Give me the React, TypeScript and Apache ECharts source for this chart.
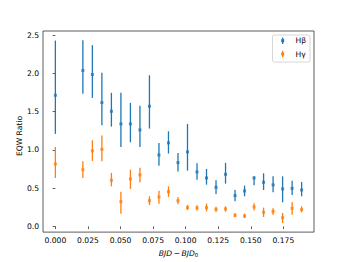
import React, { useEffect, useRef } from "react";
import * as echarts from "echarts";

const xVals = [0.0, 0.0211, 0.0284, 0.0357, 0.043, 0.0503, 0.0576, 0.0649, 0.0722, 0.0795, 0.0868, 0.0941, 0.1014, 0.1087, 0.116, 0.1233, 0.1306, 0.1379, 0.1452, 0.1525, 0.1598, 0.1671, 0.1744, 0.1817, 0.189];

const hbVal = [1.715, 2.038, 1.986, 1.619, 1.505, 1.34, 1.34, 1.262, 1.571, 0.934, 1.092, 0.834, 0.974, 0.712, 0.633, 0.51, 0.681, 0.402, 0.463, 0.633, 0.576, 0.542, 0.49, 0.497, 0.476];
const hbLow = [1.21, 1.733, 1.68, 1.322, 1.305, 1.039, 1.1, 1.039, 1.279, 0.794, 0.952, 0.716, 0.729, 0.611, 0.546, 0.424, 0.559, 0.327, 0.393, 0.537, 0.476, 0.445, 0.314, 0.411, 0.393];
const hbHigh = [2.43, 2.435, 2.37, 2.008, 1.746, 1.746, 1.615, 1.576, 1.976, 1.09, 1.243, 0.96, 1.34, 0.825, 0.751, 0.602, 0.83, 0.476, 0.533, 0.654, 0.694, 0.654, 0.654, 0.598, 0.581];

const hgVal = [0.817, 0.742, 0.987, 1.008, 0.602, 0.323, 0.62, 0.673, 0.336, 0.385, 0.454, 0.336, 0.245, 0.241, 0.245, 0.223, 0.228, 0.144, 0.136, 0.254, 0.183, 0.196, 0.114, 0.236, 0.219];
const hgLow = [0.633, 0.633, 0.856, 0.851, 0.524, 0.166, 0.49, 0.576, 0.28, 0.297, 0.385, 0.288, 0.215, 0.206, 0.196, 0.188, 0.192, 0.118, 0.109, 0.209, 0.123, 0.149, 0.044, 0.153, 0.184];
const hgHigh = [1.039, 0.851, 1.126, 1.187, 0.699, 0.454, 0.742, 0.768, 0.393, 0.467, 0.524, 0.385, 0.28, 0.275, 0.297, 0.258, 0.262, 0.17, 0.166, 0.301, 0.245, 0.236, 0.175, 0.314, 0.262];

const xTicks = [0, 0.025, 0.05, 0.075, 0.1, 0.125, 0.15, 0.175];
const yTicks = [0, 0.5, 1.0, 1.5, 2.0, 2.5];

const BLUE = "#1f77b4";
const ORANGE = "#ff7f0e";

function errSeries(name: string, color: string, low: number[], high: number[]) {
  return {
    type: "custom",
    name,
    silent: true,
    data: xVals.map((x, i) => [x, low[i], high[i]]),
    encode: { x: 0, y: [1, 2] },
    renderItem: (params: any, api: any) => {
      const p1 = api.coord([api.value(0), api.value(1)]);
      const p2 = api.coord([api.value(0), api.value(2)]);
      return {
        type: "line",
        shape: { x1: p1[0], y1: p1[1], x2: p2[0], y2: p2[1] },
        style: { stroke: color, lineWidth: 1.3 },
      };
    },
    z: 2,
  };
}

export default function App() {
  const ref = useRef<HTMLDivElement>(null);
  useEffect(() => {
    const chart = echarts.init(ref.current!, null, { renderer: "svg" });
    const font = "DejaVu Sans";
    chart.setOption({
      animation: false,
      textStyle: { fontFamily: font },
      grid: {
        left: 43,
        top: 31,
        right: 35,
        bottom: 29.5,
        show: true,
        borderColor: "#333",
        borderWidth: 0.8,
        backgroundColor: "transparent",
      },
      xAxis: {
        type: "value",
        min: -0.0095,
        max: 0.1985,
        name: "{i|BJD}{n|\u2009−\u2009}{i|BJD}{s|0}",
        nameLocation: "middle",
        nameGap: 15,
        nameTextStyle: {
          rich: {
            i: { fontFamily: font, fontStyle: "italic", fontSize: 7.6, color: "#000" },
            n: { fontFamily: font, fontSize: 7.6, color: "#000" },
            s: { fontFamily: font, fontStyle: "normal", fontSize: 5.3, color: "#000", verticalAlign: "bottom", padding: [3, 0, 0, 0] },
          },
        },
        axisLine: { show: false },
        splitLine: { show: false },
        axisTick: { show: true, customValues: xTicks, length: 2.7, lineStyle: { color: "#333", width: 0.8 } },
        axisLabel: {
          customValues: xTicks,
          formatter: (v: number) => v.toFixed(3),
          fontSize: 7.6,
          color: "#000",
          margin: 4,
          fontFamily: font,
        },
      },
      yAxis: {
        type: "value",
        min: -0.075,
        max: 2.555,
        axisLine: { show: false },
        splitLine: { show: false },
        axisTick: { show: true, customValues: yTicks, length: 2.7, lineStyle: { color: "#333", width: 0.8 } },
        axisLabel: {
          customValues: yTicks,
          formatter: (v: number) => v.toFixed(1),
          fontSize: 7.6,
          color: "#000",
          margin: 4,
          fontFamily: font,
        },
      },
      series: [
        errSeries("Hβ err", BLUE, hbLow, hbHigh),
        errSeries("Hγ err", ORANGE, hgLow, hgHigh),
        {
          type: "scatter",
          name: "Hβ",
          data: xVals.map((x, i) => [x, hbVal[i]]),
          symbol: "rect",
          symbolSize: 3,
          itemStyle: { color: BLUE },
          z: 3,
        },
        {
          type: "scatter",
          name: "Hγ",
          data: xVals.map((x, i) => [x, hgVal[i]]),
          symbol: "rect",
          symbolSize: 3,
          itemStyle: { color: ORANGE },
          z: 3,
        },
      ],
      graphic: [
        {
          type: "text",
          x: 19.5,
          y: 136,
          rotation: Math.PI / 2,
          style: { text: "EQW Ratio", fontSize: 7.6, fontFamily: font, fill: "#000", align: "center", verticalAlign: "middle" },
        },
        {
          type: "rect",
          shape: { x: 272.5, y: 35, width: 37.5, height: 27, r: 2 },
          style: { fill: "rgba(255,255,255,0.8)", stroke: "#ccc", lineWidth: 0.8 },
          z: 10,
        },
        { type: "line", shape: { x1: 282.7, y1: 37.5, x2: 282.7, y2: 44 }, style: { stroke: BLUE, lineWidth: 1.3 }, z: 11 },
        { type: "rect", shape: { x: 281.2, y: 39.2, width: 3, height: 3 }, style: { fill: BLUE }, z: 11 },
        { type: "line", shape: { x1: 282.7, y1: 50.8, x2: 282.7, y2: 57.3 }, style: { stroke: ORANGE, lineWidth: 1.3 }, z: 11 },
        { type: "rect", shape: { x: 281.2, y: 52.5, width: 3, height: 3 }, style: { fill: ORANGE }, z: 11 },
        { type: "text", x: 295.5, y: 40.7, style: { text: "Hβ", fontSize: 7.6, fontFamily: font, fill: "#000", verticalAlign: "middle" }, z: 11 },
        { type: "text", x: 295.5, y: 54, style: { text: "Hγ", fontSize: 7.6, fontFamily: font, fill: "#000", verticalAlign: "middle" }, z: 11 },
      ],
    });
    return () => chart.dispose();
  }, []);
  return <div ref={ref} style={{ width: 349, height: 262, position: "absolute", left: 0, top: 0 }} />;
}
